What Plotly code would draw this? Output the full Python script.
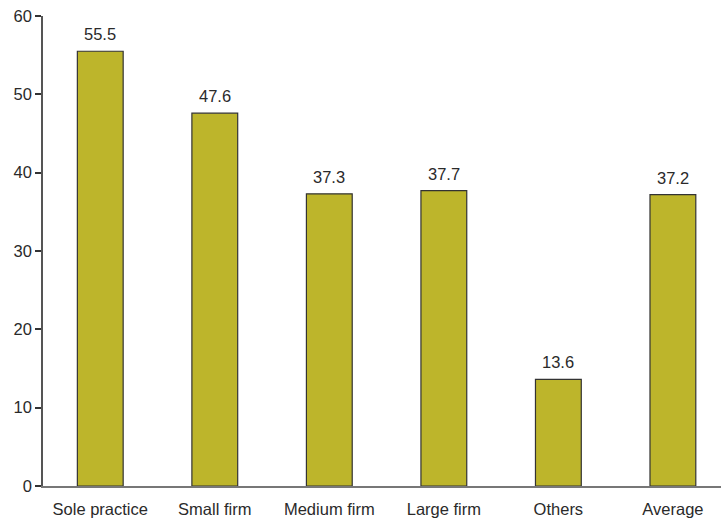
import plotly.graph_objects as go

categories = ["Sole practice", "Small firm", "Medium firm", "Large firm", "Others", "Average"]
values = [55.5, 47.6, 37.3, 37.7, 13.6, 37.2]
value_labels = ["55.5", "47.6", "37.3", "37.7", "13.6", "37.2"]
y_ticks = [0, 10, 20, 30, 40, 50, 60]

FONT = "Liberation Sans, Arial, sans-serif"
TXT = "#2a2a2a"

fig = go.Figure(
    go.Bar(
        x=categories,
        y=values,
        cliponaxis=False,
        marker=dict(color="#BDB52B", line=dict(color="#333333", width=1.2)),
    )
)

for c, v, t in zip(categories, values, value_labels):
    fig.add_annotation(
        x=c, y=v, text=t, showarrow=False, yanchor="bottom", yshift=6,
        font=dict(family=FONT, size=16.5, color=TXT),
    )

fig.update_layout(
    width=721,
    height=520,
    margin=dict(l=43, r=0, t=16, b=34),
    paper_bgcolor="white",
    plot_bgcolor="white",
    bargap=0.6,
    showlegend=False,
    font=dict(family=FONT, size=16.5, color=TXT),
)

fig.update_xaxes(
    type="category",
    range=[-0.5, 5.42],
    showline=True,
    linecolor="#777777",
    linewidth=1.5,
    ticks="",
    ticklabelstandoff=7,
    showgrid=False,
    tickfont=dict(size=16.5, color=TXT),
)

fig.update_yaxes(
    range=[0, 60],
    tickvals=y_ticks,
    showline=True,
    linecolor="#555555",
    linewidth=1.5,
    ticks="outside",
    ticklen=6,
    tickcolor="#333333",
    tickwidth=1.5,
    showgrid=False,
    zeroline=False,
    tickfont=dict(size=16.5, color=TXT),
)

fig.write_html("out.html")
